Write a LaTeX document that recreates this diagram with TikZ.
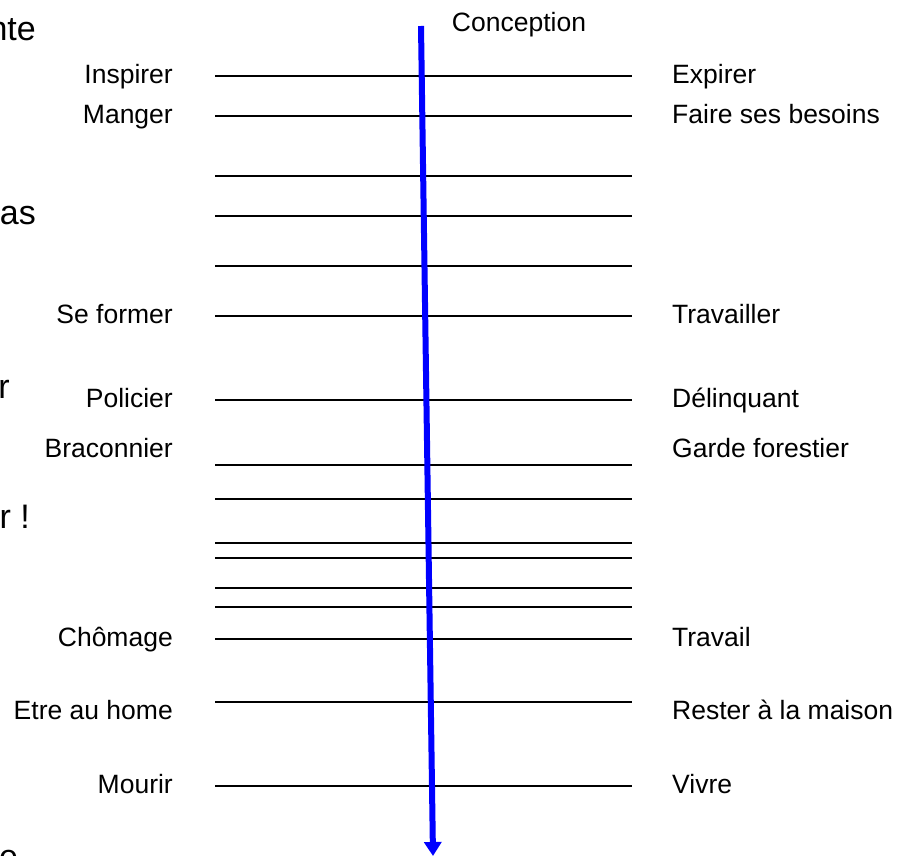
\documentclass[tikz,border=0pt]{standalone}
\usepackage{fontspec}
\setmainfont{Liberation Sans}
\usetikzlibrary{arrows.meta}
\begin{document}
\begin{tikzpicture}[x=1pt,y=-1pt,
  lbl/.style={font=\fontsize{26.5}{30}\selectfont, text height=0.72em, text depth=0em, inner sep=0pt, yshift=-4pt},
  big/.style={font=\fontsize{34}{38}\selectfont, inner sep=0pt, anchor=base east}]
\useasboundingbox (0,0) rectangle (902,856);
% traits horizontaux
\foreach \y [count=\i] in {76,116,176,216,266,316,400,465,499,543,558,588,607,639,702,786}
  \draw [line width=1.5] (215,\y) coordinate (g\i) -- (632,\y) coordinate (d\i);
% la fleche du temps
\coordinate (debut) at (421,26);
\coordinate (fin) at (433,856);
\draw [blue, line width=6, -{Triangle[length=14,width=17]}] (debut) -- (fin);
\node [lbl] (conception) at (519,24) {Conception};
% a gauche
\node [lbl, anchor=east] (inspirer) at (173,76) {Inspirer};
\node [lbl, anchor=east] (manger) at (173,116) {Manger};
\node [lbl, anchor=east] (former) at (173,316) {Se former};
\node [lbl, anchor=east] (policier) at (173,400) {Policier};
\node [lbl, anchor=east] (braconnier) at (173,450) {Braconnier};
\node [lbl, anchor=east] (chomage) at (173,639) {Chômage};
\node [lbl, anchor=east] (home) at (173,712) {Etre au home};
\node [lbl, anchor=east] (mourir) at (173,786) {Mourir};
% a droite
\node [lbl, anchor=west] (expirer) at (672,76) {Expirer};
\node [lbl, anchor=west] (besoins) at (672,116) {Faire ses besoins};
\node [lbl, anchor=west] (travailler) at (672,316) {Travailler};
\node [lbl, anchor=west] (delinquant) at (672,400) {Délinquant};
\node [lbl, anchor=west] (garde) at (672,450) {Garde forestier};
\node [lbl, anchor=west] (travail) at (672,639) {Travail};
\node [lbl, anchor=west] (maison) at (672,712) {Rester à la maison};
\node [lbl, anchor=west] (vivre) at (672,786) {Vivre};
% bouts de texte coupes
\node [big] (nte) at (36,41) {nte};
\node [big] (as) at (36,224) {as};
\node [big] (r) at (10,398) {r};
\node [big] (rexcl) at (30,528) {r !};
\node [big, anchor=base west] (e) at (-1,868) {e};
\end{tikzpicture}
\end{document}
